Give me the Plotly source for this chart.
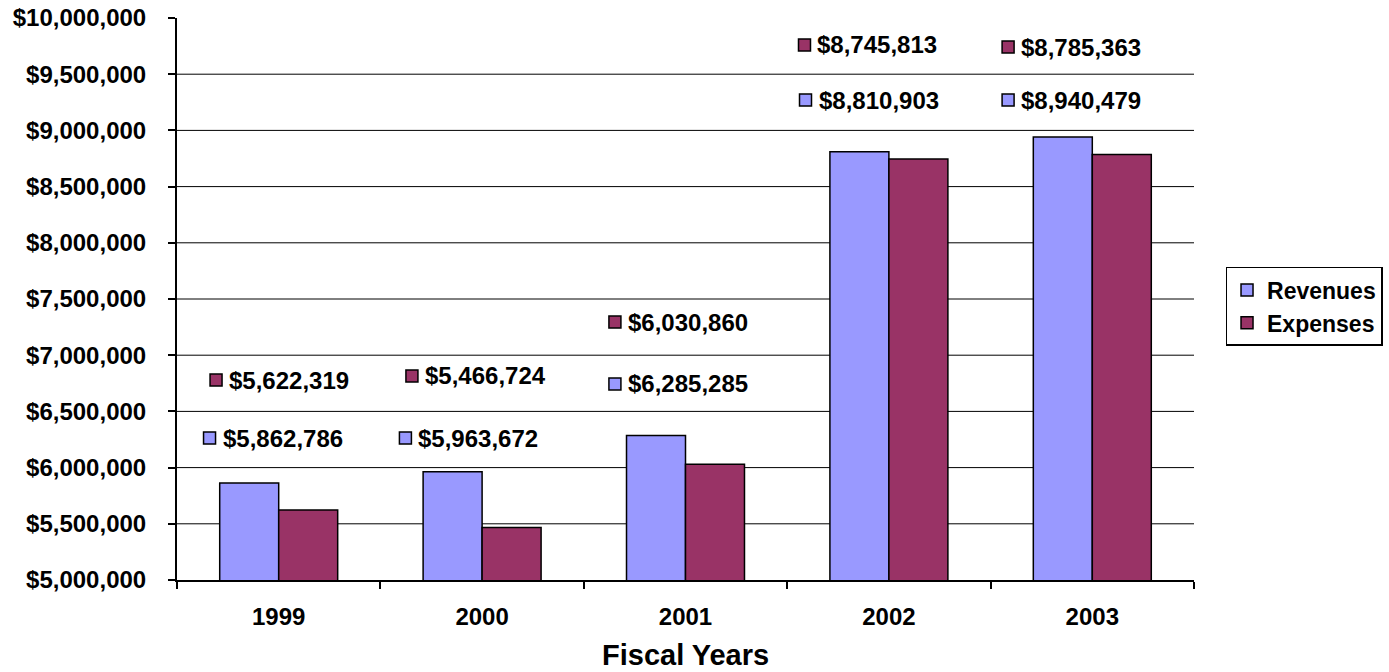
import plotly.graph_objects as go

# ---- data ----
years = ["1999", "2000", "2001", "2002", "2003"]
revenues = [5862786, 5963672, 6285285, 8810903, 8940479]
expenses = [5622319, 5466724, 6030860, 8745813, 8785363]
y_ticks = [5000000, 5500000, 6000000, 6500000, 7000000, 7500000,
           8000000, 8500000, 9000000, 9500000, 10000000]

# ---- label placement (layout only) ----
rev_label_y = [6263000, 6263000, 6744000, 9270000, 9270000]
exp_label_y = [6779000, 6815000, 7295000, 9760000, 9742000]
rev_label_dx = [-0.340, -0.377, -0.347, -0.410, -0.414]
exp_label_dx = [-0.308, -0.345, -0.347, -0.415, -0.414]

REV_COLOR = "#9999FF"
EXP_COLOR = "#993366"
FONT = "Liberation Sans, Arial, sans-serif"

fig = go.Figure()
fig.add_trace(go.Bar(name="Revenues", x=years, y=revenues,
                     marker=dict(color=REV_COLOR, line=dict(color="black", width=1.5)),
                     hoverinfo="skip"))
fig.add_trace(go.Bar(name="Expenses", x=years, y=expenses,
                     marker=dict(color=EXP_COLOR, line=dict(color="black", width=1.5)),
                     hoverinfo="skip"))

# label key squares on a hidden numeric axis aligned with the categories
rev_kx = [i + d for i, d in enumerate(rev_label_dx)]
exp_kx = [i + d for i, d in enumerate(exp_label_dx)]
fig.add_trace(go.Scatter(x=rev_kx, y=rev_label_y, xaxis="x2", mode="markers",
                         marker=dict(symbol="square", size=12, color=REV_COLOR,
                                     line=dict(color="black", width=1.5)),
                         showlegend=False, hoverinfo="skip"))
fig.add_trace(go.Scatter(x=exp_kx, y=exp_label_y, xaxis="x2", mode="markers",
                         marker=dict(symbol="square", size=12, color=EXP_COLOR,
                                     line=dict(color="black", width=1.5)),
                         showlegend=False, hoverinfo="skip"))

annotations = []
for kx, ly, v in list(zip(rev_kx, rev_label_y, revenues)) + list(zip(exp_kx, exp_label_y, expenses)):
    annotations.append(dict(x=kx, y=ly, xref="x2", yref="y", text=f"${v:,}",
                            showarrow=False, xanchor="left", yanchor="middle", xshift=11,
                            font=dict(family=FONT, size=24, color="black", weight="bold")))

annotations.append(dict(x=0.5, y=-0.134, xref="paper", yref="paper", text="Fiscal Years",
                        showarrow=False, xanchor="center", yanchor="middle",
                        font=dict(family=FONT, size=29, color="black", weight="bold")))

shapes = []
for t in y_ticks[1:-1]:
    shapes.append(dict(type="line", xref="paper", yref="y", x0=0, x1=1, y0=t, y1=t,
                       line=dict(color="black", width=1), layer="below"))

fig.update_layout(
    width=1389, height=672,
    margin=dict(l=177, r=195, t=18, b=92, autoexpand=False),
    paper_bgcolor="white", plot_bgcolor="white",
    barmode="group", bargap=0.42, bargroupgap=0,
    font=dict(family=FONT, color="black"),
    showlegend=True,
    legend=dict(x=1.031, y=0.557, xanchor="left", yanchor="top",
                bgcolor="white", bordercolor="black", borderwidth=1.5,
                font=dict(family=FONT, size=23, color="black", weight="bold"),
                tracegroupgap=0, itemclick=False, itemdoubleclick=False),
    xaxis=dict(type="category", tickson="boundaries", ticks="outside", ticklen=7,
               tickwidth=2, tickcolor="black", showline=True, linecolor="black",
               linewidth=2, showgrid=False, automargin=False, ticklabelstandoff=14,
               tickfont=dict(family=FONT, size=24, color="black", weight="bold")),
    xaxis2=dict(overlaying="x", range=[-0.5, 4.5], visible=False, showgrid=False),
    yaxis=dict(range=[5000000, 10000000], tickvals=y_ticks, tickformat="$,",
               ticks="outside", ticklen=7, tickwidth=2, tickcolor="black",
               showline=True, linecolor="black", linewidth=2, showgrid=False,
               zeroline=False, ticklabelstandoff=17, automargin=False,
               tickfont=dict(family=FONT, size=24, color="black", weight="bold")),
    annotations=annotations,
    shapes=shapes,
)

fig.write_html("out.html", config={"displayModeBar": False},
               post_script="document.body.style.margin='0';document.body.style.overflow='hidden';")
